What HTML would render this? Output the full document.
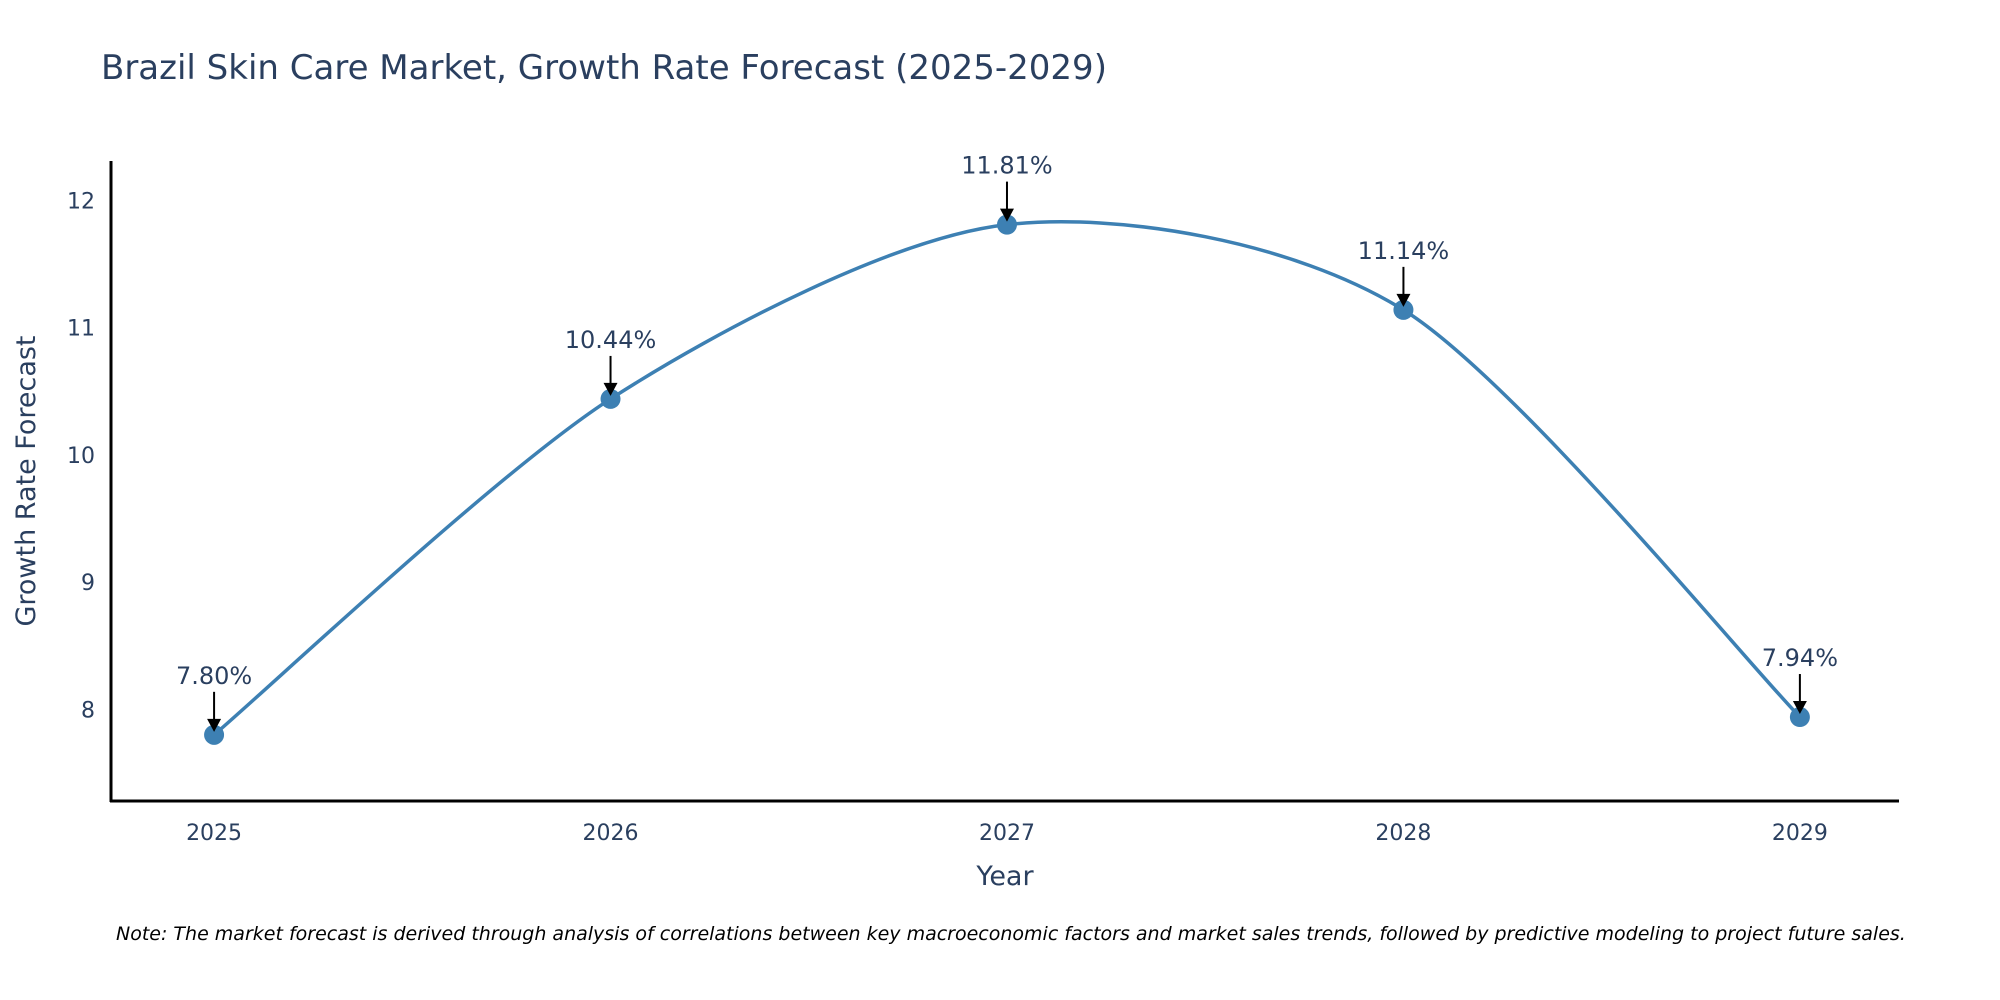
<!DOCTYPE html>
<html><head><meta charset="utf-8"><style>
html,body{margin:0;padding:0;background:#fff;}
svg{display:block;font-family:"DejaVu Sans","Liberation Sans",sans-serif;}
</style></head><body>
<svg id="chart" width="2000" height="1000" viewBox="0 0 2000 1000" xmlns="http://www.w3.org/2000/svg">
<text x="101" y="79" font-size="34" fill="#2a3f5f">Brazil Skin Care Market, Growth Rate Forecast (2025-2029)</text>
<g id="yticks"></g>
<g id="xticks"></g>
<path id="line" fill="none" stroke="#3d80b3" stroke-width="3.5"></path>
<g id="points"></g>
<g id="annots"></g>
<line x1="111" y1="161" x2="111" y2="802" stroke="#000" stroke-width="3"/>
<line x1="110" y1="801" x2="1899" y2="801" stroke="#000" stroke-width="3"/>
<text transform="translate(35,481) rotate(-90)" text-anchor="middle" font-size="27" fill="#2a3f5f">Growth Rate Forecast</text>
<text x="1005" y="885" text-anchor="middle" font-size="27" fill="#2a3f5f">Year</text>
<text x="116" y="940" font-size="19" font-style="italic" fill="#000">Note: The market forecast is derived through analysis of correlations between key macroeconomic factors and market sales trends, followed by predictive modeling to project future sales.</text>
</svg>
<script>
const years = [2025, 2026, 2027, 2028, 2029];
const growth = [7.80, 10.44, 11.81, 11.14, 7.94];
const labels = ["7.80%", "10.44%", "11.81%", "11.14%", "7.94%"];
const yTicks = [8, 9, 10, 11, 12];

const NS = "http://www.w3.org/2000/svg";
const X0 = 111, X1 = 1899, Y0 = 801, Y1 = 161;
const xMin = 2024.74, xMax = 2029.25, yMin = 7.28, yMax = 12.31;
const xs = v => X0 + (v - xMin) / (xMax - xMin) * (X1 - X0);
const ys = v => Y0 - (v - yMin) / (yMax - yMin) * (Y0 - Y1);
function mk(tag, attrs, parent, text) {
  const e = document.createElementNS(NS, tag);
  for (const k in attrs) e.setAttribute(k, attrs[k]);
  if (text !== undefined) e.textContent = text;
  parent.appendChild(e);
  return e;
}
const yt = document.getElementById('yticks');
yTicks.forEach(t => {
  const e = mk('text', {x: X0 - 16, y: ys(t) + 8, 'text-anchor': 'end', 'font-size': 22, fill: '#2a3f5f'}, yt, String(t));
  
  
});
const xt = document.getElementById('xticks');
years.forEach(t => {
  const e = mk('text', {x: xs(t), y: Y0 + 39, 'text-anchor': 'middle', 'font-size': 22, fill: '#2a3f5f'}, xt, String(t));
  
  
});
const P = years.map((y, i) => [xs(y), ys(growth[i])]);
let d = `M${P[0][0]},${P[0][1]}`;
for (let i = 0; i < P.length - 1; i++) {
  const p0 = P[i - 1] || P[i], p1 = P[i], p2 = P[i + 1], p3 = P[i + 2] || P[i + 1];
  const k = 0.14;
  const c1 = [p1[0] + (p2[0] - p0[0]) * k, p1[1] + (p2[1] - p0[1]) * k];
  const c2 = [p2[0] - (p3[0] - p1[0]) * k, p2[1] - (p3[1] - p1[1]) * k];
  d += ` C${c1[0]},${c1[1]} ${c2[0]},${c2[1]} ${p2[0]},${p2[1]}`;
}
document.getElementById('line').setAttribute('d', d);
const pts = document.getElementById('points');
const an = document.getElementById('annots');
P.forEach((p, i) => {
  const c = mk('circle', {cx: p[0], cy: p[1], r: 10, fill: '#3d80b3'}, pts);
  
  
  const l = mk('line', {x1: p[0], y1: p[1] - 43, x2: p[0], y2: p[1] - 14, stroke: '#000', 'stroke-width': 2}, an);
  
  
  const h = mk('polygon', {points: `${p[0]-7},${p[1]-16} ${p[0]+7},${p[1]-16} ${p[0]},${p[1]-3}`, fill: '#000'}, an);
  
  
  const t = mk('text', {x: p[0], y: p[1] - 51, 'text-anchor': 'middle', 'font-size': 24, fill: '#2a3f5f'}, an, labels[i]);
  
  
});
</script>
</body></html>
